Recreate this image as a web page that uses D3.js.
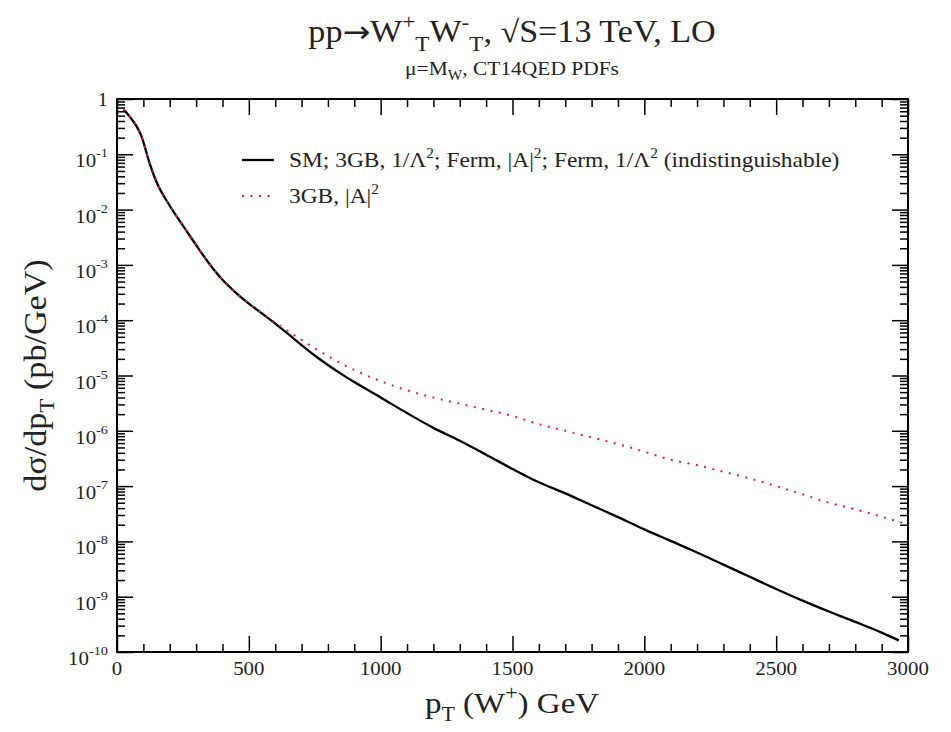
<!DOCTYPE html>
<html>
<head>
<meta charset="utf-8">
<script src="https://cdn.jsdelivr.net/npm/d3@7"></script>
<style>
  body { margin: 0; background: #fff; }
  svg { display: block; font-family: "Liberation Serif", "Times New Roman", serif; }
</style>
</head>
<body>
<svg id="chart" width="951" height="732"></svg>
<script>
// ---- data ----
const smPt = [25, 50, 75, 90, 125, 150, 200, 250, 300, 350, 400, 450, 500, 550, 600, 650, 700, 750, 800, 850, 900,
  1000, 1100, 1200, 1300, 1400, 1500, 1600, 1700, 1800, 1900, 2000, 2100, 2200, 2300, 2400, 2500, 2600, 2700, 2800, 2900, 2965];
const smXsec = [0.646, 0.468, 0.316, 0.229, 0.066, 0.0316, 0.01175, 5.13e-3, 2.29e-3, 1.05e-3, 5.37e-4, 3.16e-4, 2.0e-4, 1.32e-4,
  8.7e-5, 5.6e-5, 3.55e-5, 2.3e-5, 1.55e-5, 1.07e-5, 7.6e-6,
  4.0e-6, 2.09e-6, 1.13e-6, 6.6e-7, 3.7e-7, 2.04e-7, 1.17e-7, 7.4e-8, 4.5e-8, 2.75e-8, 1.65e-8, 1.02e-8, 6.3e-9, 3.8e-9,
  2.29e-9, 1.38e-9, 8.5e-10, 5.4e-10, 3.5e-10, 2.24e-10, 1.62e-10];
const gbPt = [25, 50, 75, 90, 125, 150, 200, 250, 300, 350, 400, 450, 500, 550, 600, 650, 700, 750, 800, 850, 900,
  1000, 1100, 1200, 1300, 1400, 1500, 1600, 1700, 1800, 1900, 2000, 2100, 2200, 2300, 2400, 2500, 2600, 2700, 2800, 2900, 2990];
const gbXsec = [0.646, 0.468, 0.316, 0.229, 0.066, 0.0316, 0.01175, 5.13e-3, 2.29e-3, 1.05e-3, 5.37e-4, 3.16e-4, 2.0e-4, 1.36e-4,
  9.0e-5, 6.3e-5, 4.4e-5, 3.1e-5, 2.25e-5, 1.65e-5, 1.26e-5,
  7.9e-6, 5.4e-6, 4.0e-6, 3.1e-6, 2.4e-6, 1.86e-6, 1.32e-6, 1.0e-6, 7.6e-7, 5.75e-7, 4.2e-7, 3.0e-7, 2.4e-7, 1.82e-7,
  1.38e-7, 1.0e-7, 7.1e-8, 5.0e-8, 3.8e-8, 2.8e-8, 2.1e-8];
const xTicks = [0, 500, 1000, 1500, 2000, 2500, 3000];
const yExponents = [0, -1, -2, -3, -4, -5, -6, -7, -8, -9, -10];

// ---- layout ----
const svg = d3.select("#chart");
const L = 117, R = 908, T = 99, B = 652;
const SX = 1.1; // horizontal stretch of the reference lettering
const x = d3.scaleLinear().domain([0, 3000]).range([L, R]);
const y = d3.scaleLog().domain([1e-10, 1]).range([B, T]);

const minorX = d3.range(0, 3001, 100).filter(v => v % 500 !== 0);
const majorY = yExponents.map(e => Math.pow(10, e));
const minorY = [];
for (let e = -10; e < 0; e++) for (let m = 2; m <= 9; m++) minorY.push(m * Math.pow(10, e));

const axisStyle = g => {
  g.select(".domain").remove();
  g.selectAll(".tick line").attr("stroke", "#000").attr("stroke-width", 1.5);
  g.selectAll(".tick text").remove();
};

svg.append("g").attr("transform", `translate(0,${B})`)
  .call(d3.axisBottom(x).tickValues(xTicks).tickSize(-16)).call(axisStyle);
svg.append("g").attr("transform", `translate(0,${B})`)
  .call(d3.axisBottom(x).tickValues(minorX).tickSize(-8)).call(axisStyle);
svg.append("g").attr("transform", `translate(0,${T})`)
  .call(d3.axisTop(x).tickValues(xTicks).tickSize(-16)).call(axisStyle);
svg.append("g").attr("transform", `translate(0,${T})`)
  .call(d3.axisTop(x).tickValues(minorX).tickSize(-8)).call(axisStyle);
svg.append("g").attr("transform", `translate(${L},0)`)
  .call(d3.axisLeft(y).tickValues(majorY).tickSize(-16)).call(axisStyle);
svg.append("g").attr("transform", `translate(${L},0)`)
  .call(d3.axisLeft(y).tickValues(minorY).tickSize(-8)).call(axisStyle);
svg.append("g").attr("transform", `translate(${R},0)`)
  .call(d3.axisRight(y).tickValues(majorY).tickSize(-16)).call(axisStyle);
svg.append("g").attr("transform", `translate(${R},0)`)
  .call(d3.axisRight(y).tickValues(minorY).tickSize(-8)).call(axisStyle);

svg.append("rect").attr("x", L).attr("y", T).attr("width", R - L).attr("height", B - T)
  .attr("fill", "none").attr("stroke", "#000").attr("stroke-width", 2);

// helper: stretched text
function stext(px, py, rot, size, anchor) {
  const g = svg.append("g").attr("transform", `translate(${px},${py}) rotate(${rot}) scale(${SX},1)`);
  return g.append("text").attr("x", 0).attr("y", 0).attr("text-anchor", anchor)
    .attr("font-size", size).attr("fill", "#222");
}

// x tick labels
svg.append("g").selectAll("g").data(xTicks).join("g")
  .attr("transform", d => `translate(${x(d)},${B + 23}) scale(${SX},1)`)
  .append("text").attr("text-anchor", "middle").attr("font-size", 19).attr("fill", "#222")
  .text(d => d);

// y tick labels
svg.append("g").selectAll("g").data(yExponents).join("g")
  .attr("transform", e => `translate(${L - 9},${y(Math.pow(10, e)) + (e === 0 ? 7 : 13)}) scale(${SX},1)`)
  .append("text").attr("text-anchor", "end").attr("font-size", 19).attr("fill", "#222")
  .each(function(e) {
    const t = d3.select(this);
    if (e === 0) { t.text("1"); return; }
    t.append("tspan").text("10");
    t.append("tspan").attr("font-size", 13).attr("dy", -10).text(e);
  });

// lines
const lineGen = d3.line().curve(d3.curveMonotoneX).x(d => x(d[0])).y(d => y(d[1]));
svg.append("path").datum(d3.zip(smPt, smXsec))
  .attr("d", lineGen).attr("fill", "none").attr("stroke", "#000").attr("stroke-width", 2.3)
  .attr("stroke-linejoin", "round");
svg.append("path").datum(d3.zip(gbPt, gbXsec))
  .attr("d", lineGen).attr("fill", "none").attr("stroke", "#e0242c").attr("stroke-width", 2)
  .attr("stroke-dasharray", "2 6.5");

// legend
svg.append("line").attr("x1", 242).attr("x2", 274).attr("y1", 160).attr("y2", 160)
  .attr("stroke", "#000").attr("stroke-width", 2.3);
svg.append("line").attr("x1", 242).attr("x2", 274).attr("y1", 196).attr("y2", 196)
  .attr("stroke", "#e0242c").attr("stroke-width", 2).attr("stroke-dasharray", "2 6.5");
const t1 = stext(289, 167, 0, 21.3, "start");
t1.append("tspan").text("SM; 3GB, 1/Λ");
t1.append("tspan").attr("font-size", 14).attr("dy", -9).text("2");
t1.append("tspan").attr("dy", 9).text("; Ferm, |A|");
t1.append("tspan").attr("font-size", 14).attr("dy", -9).text("2");
t1.append("tspan").attr("dy", 9).text("; Ferm, 1/Λ");
t1.append("tspan").attr("font-size", 14).attr("dy", -9).text("2");
t1.append("tspan").attr("dy", 9).text(" (indistinguishable)");
const t2 = stext(289, 203, 0, 21.3, "start");
t2.append("tspan").text("3GB, |A|");
t2.append("tspan").attr("font-size", 14).attr("dy", -9).text("2");

// title
const title = stext(512, 42, 0, 31, "middle");
title.append("tspan").text("pp");
title.append("tspan").attr("font-family", "DejaVu Sans").attr("font-size", 30).text("→");
title.append("tspan").text("W");
title.append("tspan").attr("font-size", 21).attr("dy", -13).text("+");
title.append("tspan").attr("font-size", 21).attr("dy", 22).text("T");
title.append("tspan").attr("dy", -9).text("W");
title.append("tspan").attr("font-size", 21).attr("dy", -13).text("-");
title.append("tspan").attr("font-size", 21).attr("dy", 22).text("T");
title.append("tspan").attr("dy", -9).text(", √S=13 TeV, LO");

const sub = stext(512, 75, 0, 19.5, "middle");
sub.append("tspan").text("μ=M");
sub.append("tspan").attr("font-size", 14).attr("dy", 5).text("W");
sub.append("tspan").attr("dy", -5).text(", CT14QED PDFs");

// x label
const xl = stext(512, 713, 0, 30, "middle");
xl.append("tspan").text("p");
xl.append("tspan").attr("font-size", 20).attr("dy", 8).text("T");
xl.append("tspan").attr("dy", -8).text(" (W");
xl.append("tspan").attr("font-size", 20).attr("dy", -13).text("+");
xl.append("tspan").attr("dy", 13).text(") GeV");

// y label
const ylab = stext(46, (T + B) / 2, -90, 31, "middle");
ylab.append("tspan").text("dσ/dp");
ylab.append("tspan").attr("font-size", 21).attr("dy", 8).text("T");
ylab.append("tspan").attr("dy", -8).text(" (pb/GeV)");
</script>
</body>
</html>
